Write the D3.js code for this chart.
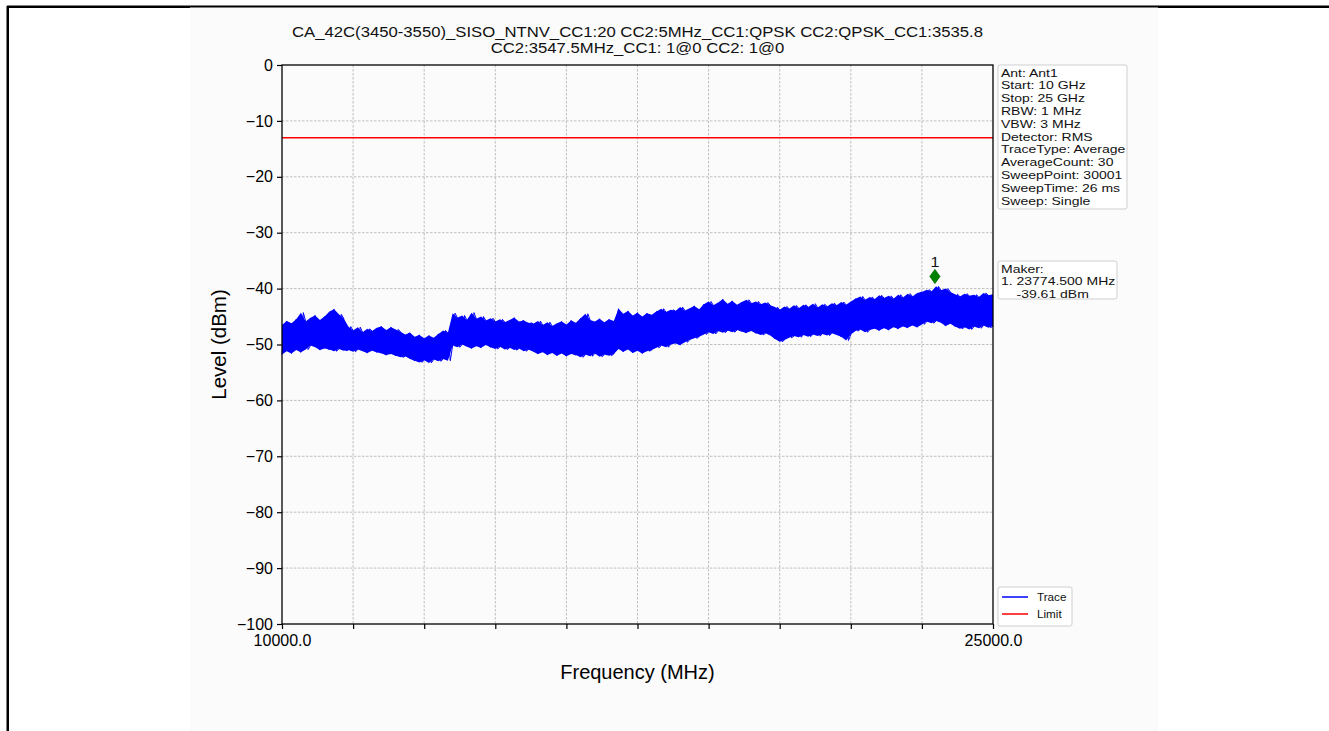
<!DOCTYPE html>
<html><head><meta charset="utf-8">
<script src="https://cdn.jsdelivr.net/npm/d3@7"></script>
<style>
html,body{margin:0;padding:0;background:#fff;}
svg{display:block;font-family:"Liberation Sans",Arial,sans-serif;}
</style></head>
<body><svg id="c" width="1329" height="731"></svg>
<script>
// ---------- data ----------
const titleLines = ["CA_42C(3450-3550)_SISO_NTNV_CC1:20 CC2:5MHz_CC1:QPSK CC2:QPSK_CC1:3535.8",
                    "CC2:3547.5MHz_CC1: 1@0 CC2: 1@0"];
const xDomain = [10000, 25000];
const yDomain = [-100, 0];
const yTicks = [0, -10, -20, -30, -40, -50, -60, -70, -80, -90, -100];
const xTicks = [10000, 11500, 13000, 14500, 16000, 17500, 19000, 20500, 22000, 23500, 25000];
const xTickLabels = {10000: "10000.0", 25000: "25000.0"};
const limitLevel = -13;
// trace envelope sampled every 100 MHz (10000 .. 25000)
const traceFreqStart = 10000, traceFreqStep = 100;
const traceHigh = [
 -46.5,-45.8,-46.2,-45.5,-44.3,-45.9,-45.2,-44.8,-45.6,-45.0,-44.1,-43.7,-44.6,-45.3,
 -46.8,-47.5,-46.9,-47.8,-47.2,-47.6,-47.0,-46.8,-47.4,-46.9,-47.3,-47.7,-48.2,-47.9,-48.6,-48.3,-48.9,-48.4,-48.8,-48.1,-47.5,-47.9,
 -44.4,-45.2,-44.8,-45.6,-44.3,-45.4,-45.0,-45.7,-45.3,-45.9,-45.5,-46.0,-45.6,-45.2,-45.9,-45.7,-46.1,
 -46.3,-45.8,-46.5,-46.0,-46.7,-46.2,-45.9,-46.4,-45.7,-46.1,-45.3,-44.5,-45.6,-45.9,-45.4,-46.0,-45.5,-45.8,
 -43.6,-44.5,-44.0,-44.8,-44.3,-45.0,-44.4,-44.7,-44.1,-43.6,-44.2,-43.8,-44.0,-43.3,-43.9,-43.5,-43.1,-43.7,
 -42.8,-42.3,-43.0,-42.5,-41.9,-42.7,-42.2,-42.9,-42.4,-42.0,-42.6,-42.3,-42.8,-42.5,-43.0,
 -43.3,-43.8,-43.2,-43.6,-43.0,-43.5,-42.9,-43.3,-42.7,-43.4,-42.8,-43.2,-42.6,-43.0,-42.4,-42.9,-42.3,
 -41.8,-41.4,-42.0,-41.5,-41.9,-41.2,-41.7,-41.3,-41.8,-41.1,-41.6,-40.9,-41.4,-40.8,
 -40.6,-40.2,-40.5,-39.6,-40.3,-40.0,-40.6,
 -41.0,-41.4,-40.9,-41.3,-41.1,-41.5,-40.8,-41.2,-41.0
];
const traceLow = [
 -51.8,-51.2,-51.6,-51.0,-51.4,-50.9,-50.2,-50.5,-51.0,-50.7,-50.9,-51.2,-50.8,-51.1,
 -51.0,-51.3,-50.9,-51.2,-51.5,-51.1,-51.4,-51.6,-51.9,-51.7,-52.0,-52.3,-52.1,-52.6,-52.9,-53.2,-52.8,-53.3,-52.7,-53.0,-52.6,-52.9,
 -50.2,-50.5,-50.0,-50.4,-50.7,-50.3,-50.6,-50.1,-50.5,-50.8,-50.4,-50.9,-50.6,-51.0,-50.7,-51.2,-50.9,
 -51.3,-51.7,-51.4,-51.9,-51.5,-52.0,-51.6,-52.1,-51.7,-51.9,-52.3,-51.8,-52.1,-51.6,-52.2,-51.8,-52.0,-51.7,
 -50.8,-51.3,-50.9,-51.5,-51.1,-51.6,-51.2,-51.0,-50.6,-50.2,-50.5,-50.0,-49.8,-50.1,-49.6,-49.2,-48.9,-48.6,
 -48.2,-47.8,-48.1,-47.6,-47.9,-47.5,-47.8,-47.4,-47.7,-47.9,-47.6,-48.0,-48.3,-48.0,-48.4,
 -49.0,-49.5,-49.2,-48.8,-48.5,-48.7,-48.3,-48.6,-48.2,-48.5,-48.1,-48.4,-48.0,-48.3,-48.6,-49.3,-48.2,
 -47.6,-47.3,-47.8,-47.4,-47.2,-47.5,-47.1,-47.4,-46.9,-47.2,-46.8,-47.0,-46.6,-46.9,
 -46.4,-45.9,-46.2,-45.8,-46.1,-46.7,-46.3,
 -46.8,-47.2,-46.9,-47.3,-46.8,-47.1,-46.6,-47.0,-46.7
];
const markerFreq = 23774.5, markerLevel = -39.61, markerLabel = "1";
const infoLines = ["Ant: Ant1","Start: 10 GHz","Stop: 25 GHz","RBW: 1 MHz","VBW: 3 MHz","Detector: RMS",
  "TraceType: Average","AverageCount: 30","SweepPoint: 30001","SweepTime: 26 ms","Sweep: Single"];
const makerLines = ["Maker:","1. 23774.500 MHz","    -39.61 dBm"];
const legendItems = [{name:"Trace", color:"#0000ff"},{name:"Limit", color:"#ff0000"}];

// ---------- drawing ----------
const svg = d3.select("#c");
// page frame
svg.append("rect").attr("x",7).attr("y",5.5).attr("width",1322).attr("height",2.5).attr("fill","#000");
svg.append("rect").attr("x",6.5).attr("y",6).attr("width",2.5).attr("height",725).attr("fill","#000");
svg.append("rect").attr("x",190).attr("y",7.5).attr("width",968).attr("height",724).attr("fill","#fbfbfb");

const L=282, R=993, T=65, B=624;
const x = d3.scaleLinear().domain(xDomain).range([L,R]);
const y = d3.scaleLinear().domain(yDomain).range([B,T]);

// squeezed text helper (reference text is vertically compressed)
function sText(px, py, str, size, anchor, sy){
  return svg.append("text").attr("transform",`translate(${px},${py}) scale(1,${sy||0.84})`)
    .attr("text-anchor",anchor||"start").attr("font-size",size).attr("fill","#111")
    .attr("xml:space","preserve").style("white-space","pre").text(str);
}

// grid
const g = svg.append("g");
g.selectAll(".gy").data(yTicks.filter(d=>d>-100 && d<0)).enter().append("line")
 .attr("x1",L).attr("x2",R).attr("y1",d=>y(d)).attr("y2",d=>y(d))
 .attr("stroke","#b0b0b0").attr("stroke-width",0.8).attr("stroke-dasharray","2.5,1.5");
g.selectAll(".gx").data(xTicks.filter(d=>d>10000 && d<25000)).enter().append("line")
 .attr("y1",T).attr("y2",B).attr("x1",d=>x(d)).attr("x2",d=>x(d))
 .attr("stroke","#b0b0b0").attr("stroke-width",0.8).attr("stroke-dasharray","2.5,1.5");

// trace
const pts = traceHigh.map((h,i)=>({f: traceFreqStart + i*traceFreqStep, h, l: traceLow[i]}));
svg.append("path").datum(pts)
 .attr("d", d3.area().x(d=>x(d.f)).y0(d=>y(d.l)).y1(d=>y(d.h)))
 .attr("fill","#0000ff");
const zig = [];
pts.forEach((p,i)=>{ zig.push([p.f, i%2? p.h : p.l]); zig.push([p.f + traceFreqStep/2, i%2? p.l : p.h]); });
svg.append("path").datum(zig.filter(d=>d[0]<=25000))
 .attr("d", d3.line().x(d=>x(d[0])).y(d=>y(d[1])))
 .attr("fill","none").attr("stroke","#0000ff").attr("stroke-width",1);

// limit
svg.append("line").attr("x1",L).attr("x2",R).attr("y1",y(limitLevel)).attr("y2",y(limitLevel))
 .attr("stroke","#ff0000").attr("stroke-width",1.5);

// marker
const mx = x(markerFreq), my = y(markerLevel) - 11;
svg.append("path").attr("transform",`translate(${mx},${my+1}) scale(1.25,1)`)
 .attr("d", d3.symbol().type(d3.symbolDiamond).size(60)())
 .attr("fill","#008000").attr("stroke","#006400").attr("stroke-width",0.5);
sText(mx, my-8, markerLabel, 16, "middle", 0.9);

// axes
const tickFont = 16;
const ya = svg.append("g").attr("transform",`translate(${L},0)`)
 .call(d3.axisLeft(y).tickValues(yTicks).tickSize(5).tickPadding(4).tickFormat(d=> d<0 ? "\u2212"+Math.abs(d) : d));
ya.select(".domain").remove();
ya.selectAll("text").attr("font-size",tickFont).attr("fill","#000").attr("font-family","Liberation Sans, Arial, sans-serif");
ya.selectAll("line").attr("stroke","#000").attr("stroke-width",1.2);
const xa = svg.append("g").attr("transform",`translate(0,${B})`)
 .call(d3.axisBottom(x).tickValues(xTicks).tickSize(5).tickPadding(6).tickFormat(d=>xTickLabels[d]||""));
xa.select(".domain").remove();
xa.selectAll("text").attr("font-size",tickFont).attr("fill","#000").attr("font-family","Liberation Sans, Arial, sans-serif");
xa.selectAll("line").attr("stroke","#000").attr("stroke-width",1.2);
svg.append("rect").attr("x",L).attr("y",T).attr("width",R-L).attr("height",B-T)
 .attr("fill","none").attr("stroke","#000").attr("stroke-width",1.3);

// titles
titleLines.forEach((t,i)=>sText((L+R)/2, 37+i*15.5, t, 16.7, "middle", 0.86));
svg.append("text").attr("x",(L+R)/2).attr("y",679).attr("text-anchor","middle")
 .attr("font-size",20).attr("fill","#000").text("Frequency (MHz)");
svg.append("text").attr("transform",`translate(226,${(T+B)/2}) rotate(-90)`).attr("text-anchor","middle")
 .attr("font-size",20.5).attr("fill","#000").text("Level (dBm)");

// info box
function box(x0,y0,w,h){
  svg.append("rect").attr("x",x0).attr("y",y0).attr("width",w).attr("height",h).attr("rx",2)
   .attr("fill","#fff").attr("stroke","#cfcfcf").attr("stroke-width",1);
}
box(998,65,129,144);
infoLines.forEach((t,i)=>sText(1001, 76.5+i*12.8, t, 14));
box(998,261,119,38);
makerLines.forEach((t,i)=>sText(1001, 272.5+i*12.5, t, 14));

// legend
box(998,587,74,39);
legendItems.forEach((d,i)=>{
  const yy = 597 + i*17;
  svg.append("line").attr("x1",1002).attr("x2",1028).attr("y1",yy).attr("y2",yy).attr("stroke",d.color).attr("stroke-width",1.5);
  sText(1037, yy+4, d.name, 11.7, "start", 0.95);
});
</script></body></html>
